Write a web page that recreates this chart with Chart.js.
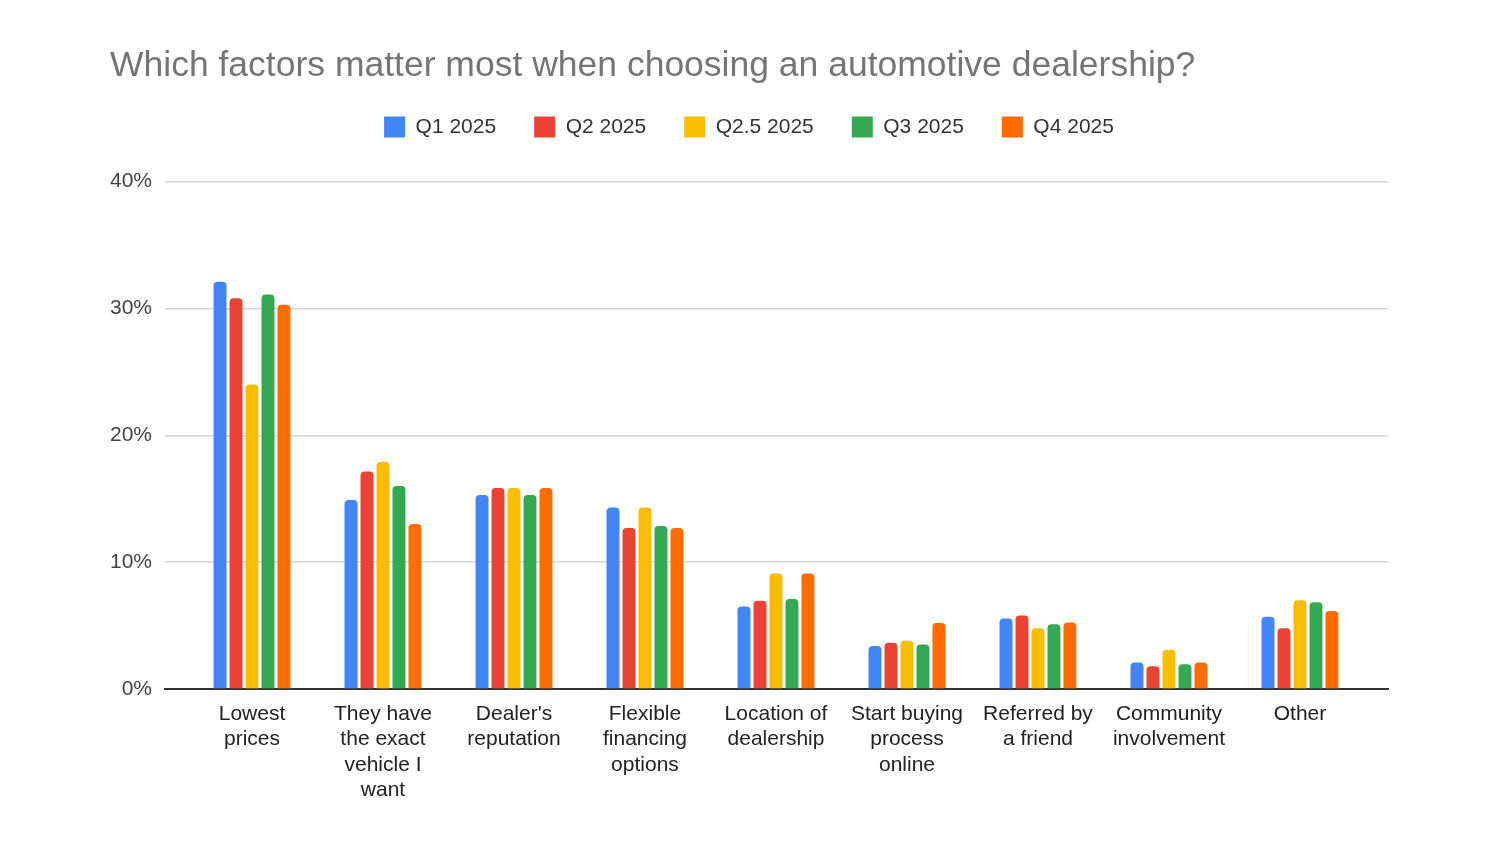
<!DOCTYPE html>
<html>
<head>
<meta charset="utf-8">
<script src="https://cdn.jsdelivr.net/npm/chart.js@4/dist/chart.umd.min.js"></script>
<style>
  html, body { margin: 0; padding: 0; background: #fff; }
  #wrap { width: 1500px; height: 844px; }
</style>
</head>
<body>
<div id="wrap"><canvas id="chart" width="1500" height="844"></canvas></div>
<script>
// categories (multi-line labels like the sheet export)
const categories = [
  ['Lowest', 'prices'],
  ['They have', 'the exact', 'vehicle I', 'want'],
  ["Dealer's", 'reputation'],
  ['Flexible', 'financing', 'options'],
  ['Location of', 'dealership'],
  ['Start buying', 'process', 'online'],
  ['Referred by', 'a friend'],
  ['Community', 'involvement'],
  ['Other']
];

// percent values
const q1 = [32.1, 14.9, 15.3, 14.3, 6.5, 3.4, 5.55, 2.1, 5.7];
const q2 = [30.8, 17.15, 15.85, 12.7, 6.95, 3.65, 5.8, 1.8, 4.8];
const q25 = [24.0, 17.9, 15.85, 14.3, 9.1, 3.8, 4.8, 3.1, 7.0];
const q3 = [31.1, 16.0, 15.3, 12.85, 7.1, 3.5, 5.1, 1.95, 6.85];
const q4 = [30.3, 13.0, 15.85, 12.7, 9.1, 5.2, 5.25, 2.1, 6.15];

const seriesNames = ['Q1 2025', 'Q2 2025', 'Q2.5 2025', 'Q3 2025', 'Q4 2025'];
const colors = ['#4285F4', '#EA4335', '#FBBC04', '#34A853', '#FF6D01'];

const font = '"Liberation Sans", Arial, sans-serif';

// x is a linear axis so the groups can sit inset from the plot edges like in Sheets
const datasets = [q1, q2, q25, q3, q4].map((vals, i) => ({
  label: seriesNames[i],
  data: vals.map((v, j) => ({ x: j, y: v })),
  backgroundColor: colors[i],
  borderRadius: { topLeft: 4, topRight: 4 },
  borderSkipped: 'bottom',
  categoryPercentage: 0.61,
  barPercentage: 0.81
}));

// push the plot down a bit below the legend
const legendSpacer = {
  id: 'legendSpacer',
  beforeInit(chart) {
    const fit = chart.legend.fit;
    chart.legend.fit = function () {
      fit.bind(chart.legend)();
      this.height += 34;
    };
  }
};

new Chart(document.getElementById('chart'), {
  type: 'bar',
  data: { datasets: datasets },
  plugins: [legendSpacer],
  options: {
    responsive: false,
    animation: false,
    layout: { padding: { left: 110, right: 112, top: 45, bottom: 37 } },
    plugins: {
      title: {
        display: true,
        text: 'Which factors matter most when choosing an automotive dealership?',
        align: 'start',
        color: '#757575',
        font: { family: font, size: 35.5, weight: 'normal' },
        padding: { top: 0, bottom: -9 }
      },
      legend: {
        position: 'top',
        labels: {
          boxWidth: 21,
          boxHeight: 21,
          padding: 38,
          color: '#333',
          font: { family: font, size: 21 }
        }
      },
      tooltip: { enabled: false }
    },
    scales: {
      x: {
        type: 'linear',
        offset: false,
        min: -0.664,
        max: 8.672,
        afterBuildTicks: s => { s.ticks = categories.map((c, i) => ({ value: i })); },
        grid: { display: false },
        border: { display: true, color: '#333', width: 2 },
        ticks: {
          color: '#222',
          maxRotation: 0,
          autoSkip: false,
          padding: 4,
          font: { family: font, size: 21, lineHeight: 1.214 },
          callback: v => categories[v]
        }
      },
      y: {
        min: 0,
        max: 40,
        afterFit: s => { s.width = 55; },
        grid: { color: '#d6d6d6', lineWidth: 1.5, drawTicks: false },
        border: { display: false },
        ticks: {
          stepSize: 10,
          color: '#444',
          padding: 13,
          font: { family: font, size: 21 },
          callback: v => v + '%'
        }
      }
    }
  }
});
</script>
</body>
</html>
